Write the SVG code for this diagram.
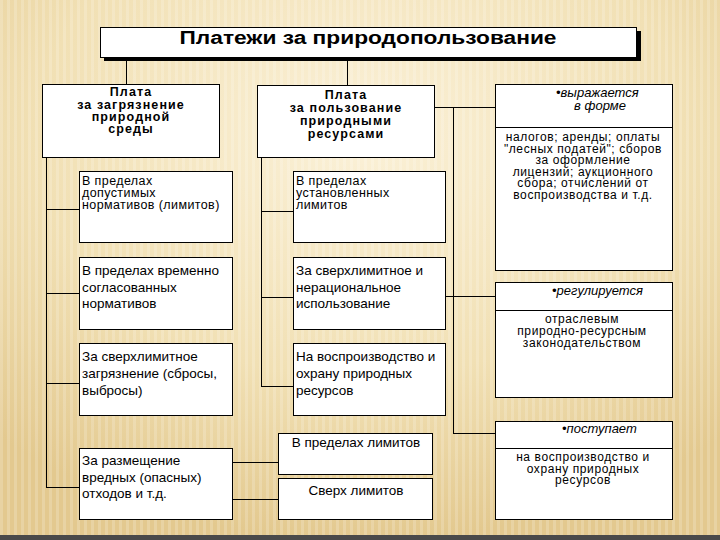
<svg xmlns="http://www.w3.org/2000/svg" width="720" height="540" viewBox="0 0 720 540">
<defs>
<radialGradient id="bg" cx="0.5" cy="0.25" r="0.75">
<stop offset="0" stop-color="#fbf1d8"/>
<stop offset="0.6" stop-color="#f1e0b4"/>
<stop offset="1" stop-color="#e3c98f"/>
</radialGradient>
<pattern id="stripes" width="7" height="540" patternUnits="userSpaceOnUse">
<rect x="0" y="0" width="3" height="540" fill="#ffffff" opacity="0.18"/>
</pattern>
<style>
.box{fill:#ffffff;stroke:#000;stroke-width:1}
.hd{font-family:"Liberation Sans",Arial,sans-serif;font-weight:bold;font-size:12.5px;letter-spacing:1.1px;text-anchor:middle;fill:#000}
.tx{font-family:"Liberation Sans",Arial,sans-serif;font-size:13.5px;fill:#000}
.tc{font-family:"Liberation Sans",Arial,sans-serif;font-size:12.5px;letter-spacing:0.4px;fill:#000}
.bd{font-family:"Liberation Sans",Arial,sans-serif;font-size:12px;letter-spacing:0.6px;fill:#000;text-anchor:middle}
.it{font-family:"Liberation Sans",Arial,sans-serif;font-size:13px;font-style:italic;fill:#000}
.ln{stroke:#000;stroke-width:1;fill:none}
</style>
</defs>
<rect width="720" height="540" fill="url(#bg)"/>
<rect width="720" height="540" fill="url(#stripes)"/>
<rect x="0" y="535" width="720" height="5" fill="#4a4a4a"/>

<g id="connectors">
<path class="ln" d="M126.5 57V85M347.5 57V85"/>
<path class="ln" d="M46.5 158V487.5M46 209.5H79M46 293.5H79M46 383.5H79M46 487.5H79"/>
<path class="ln" d="M261.5 158V386.5M261 211.5H293M261 297.5H293M261 386.5H293"/>
<path class="ln" d="M434 107.5H495M453.5 107V433.5M445 296.5H495M453 433.5H495"/>
<path class="ln" d="M232 462.5H278M232 499.5H278"/>
</g>

<g id="title">
<rect x="104" y="31" width="537" height="30" fill="#000"/>
<rect class="box" x="100.5" y="27.5" width="536" height="30"/>
<text x="368" y="44" font-family="'Liberation Sans',Arial,sans-serif" font-weight="bold" font-size="17.5px" text-anchor="middle" textLength="377" lengthAdjust="spacingAndGlyphs">Платежи за природопользование</text>
</g>

<g id="pollution">
<rect class="box" x="42.5" y="84.5" width="177" height="73"/>
<text class="hd"><tspan x="131" y="96">Плата</tspan><tspan x="131" y="108.5">за загрязнение</tspan><tspan x="131" y="121">природной</tspan><tspan x="131" y="133">среды</tspan></text>
</g>

<g id="usage">
<rect class="box" x="257.5" y="85.5" width="177" height="72"/>
<text class="hd"><tspan x="346" y="99">Плата</tspan><tspan x="346" y="112">за пользование</tspan><tspan x="346" y="125">природными</tspan><tspan x="346" y="138">ресурсами</tspan></text>
</g>

<g id="l1">
<rect class="box" x="79.5" y="171.5" width="153" height="71"/>
<text class="tc"><tspan x="82" y="185">В пределах</tspan><tspan x="82" y="197">допустимых</tspan><tspan x="82" y="208.5">нормативов (лимитов)</tspan></text>
</g>
<g id="l2">
<rect class="box" x="79.5" y="257.5" width="153" height="72"/>
<text class="tx"><tspan x="82" y="275">В пределах временно</tspan><tspan x="82" y="292">согласованных</tspan><tspan x="82" y="308">нормативов</tspan></text>
</g>
<g id="l3">
<rect class="box" x="79.5" y="343.5" width="153" height="72"/>
<text class="tx"><tspan x="82" y="361">За сверхлимитное</tspan><tspan x="82" y="378">загрязнение (сбросы,</tspan><tspan x="82" y="395">выбросы)</tspan></text>
</g>
<g id="l4">
<rect class="box" x="79.5" y="448.5" width="153" height="71"/>
<text class="tx"><tspan x="82" y="465">За размещение</tspan><tspan x="82" y="482">вредных (опасных)</tspan><tspan x="82" y="498">отходов и т.д.</tspan></text>
</g>

<g id="m1">
<rect class="box" x="293.5" y="171.5" width="152" height="71"/>
<text class="tc"><tspan x="296" y="185">В пределах</tspan><tspan x="296" y="197">установленных</tspan><tspan x="296" y="208.5">лимитов</tspan></text>
</g>
<g id="m2">
<rect class="box" x="293.5" y="257.5" width="152" height="72"/>
<text class="tx"><tspan x="296" y="275">За сверхлимитное и</tspan><tspan x="296" y="292">нерациональное</tspan><tspan x="296" y="308">использование</tspan></text>
</g>
<g id="m3">
<rect class="box" x="293.5" y="343.5" width="152" height="72"/>
<text class="tx"><tspan x="296" y="361">На воспроизводство и</tspan><tspan x="296" y="378">охрану природных</tspan><tspan x="296" y="395">ресурсов</tspan></text>
</g>
<g id="m4">
<rect class="box" x="278.5" y="433.5" width="154" height="41"/>
<text class="tx" x="356" y="447" text-anchor="middle">В пределах лимитов</text>
</g>
<g id="m5">
<rect class="box" x="278.5" y="478.5" width="154" height="41"/>
<text class="tx" x="356" y="495" text-anchor="middle">Сверх лимитов</text>
</g>

<g id="r1">
<rect class="box" x="495.5" y="84.5" width="177" height="186"/>
<line class="ln" x1="495" y1="127.5" x2="672" y2="127.5"/>
<text class="it"><tspan x="556" y="97">•выражается</tspan><tspan x="600" y="110" text-anchor="middle">в форме</tspan></text>
<text class="bd"><tspan x="583" y="141">налогов; аренды; оплаты</tspan><tspan x="583" y="152.5">"лесных податей"; сборов</tspan><tspan x="583" y="164">за оформление</tspan><tspan x="583" y="175.5">лицензий; аукционного</tspan><tspan x="583" y="187">сбора; отчислений от</tspan><tspan x="583" y="198.5">воспроизводства и т.д.</tspan></text>
</g>
<g id="r2">
<rect class="box" x="495.5" y="282.5" width="177" height="115"/>
<line class="ln" x1="495" y1="310.5" x2="672" y2="310.5"/>
<text class="it" x="552" y="295">•регулируется</text>
<text class="bd"><tspan x="582" y="323">отраслевым</tspan><tspan x="582" y="335">природно-ресурсным</tspan><tspan x="582" y="347">законодательством</tspan></text>
</g>
<g id="r3">
<rect class="box" x="495.5" y="421.5" width="177" height="98"/>
<line class="ln" x1="495" y1="448.5" x2="672" y2="448.5"/>
<text class="it" x="562" y="433">•поступает</text>
<text class="bd"><tspan x="583" y="461">на воспроизводство и</tspan><tspan x="583" y="473">охрану природных</tspan><tspan x="583" y="484">ресурсов</tspan></text>
</g>
</svg>
